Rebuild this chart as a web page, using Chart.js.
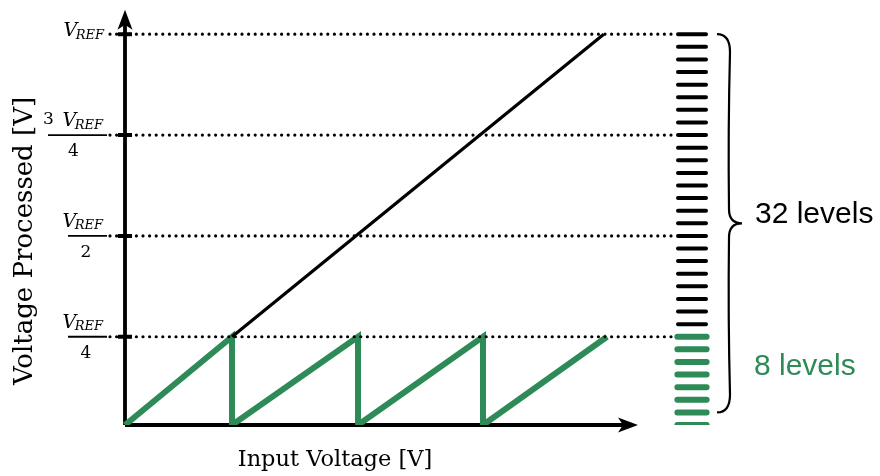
<!DOCTYPE html>
<html>
<head>
<meta charset="utf-8">
<script src="https://cdn.jsdelivr.net/npm/chart.js@4/dist/chart.umd.min.js"></script>
<style>
  html, body { margin: 0; padding: 0; background: #fff; }
  #wrap { width: 880px; height: 476px; }
</style>
</head>
<body>
<div id="wrap"><canvas id="canvas" width="880" height="476"></canvas></div>
<script>
// values (x: input voltage units, y: quantisation levels)
const sawX = [0, 8.56, 8.56, 18.64, 18.64, 28.64, 28.64, 38.56];
const sawY = [0, 7, 0, 7, 0, 7, 0, 7];
const rampX = [8.56, 38.3];
const rampY = [7, 31];
const gridLevels = [7, 15, 23, 31];
const tickCoef = ['', '', '3', ''];
const tickDen = ['4', '2', '4', ''];
const fineLevels = 32;
const coarseLevels = 8;
const braceLevels = [1, 16, 31];
const xAxisTitle = 'Input Voltage [V]';
const yAxisTitle = 'Voltage Processed [V]';
const fineText = '32 levels';
const coarseText = '8 levels';

const GREEN = '#2e8b57';
const xAxisEnd = 41.04, yAxisEnd = 32.94;
const gridFrom = -1.2, gridTo = 44.1;
const barFrom = 44.24, barTo = 46.48;

function pairs(xs, ys) {
    return xs.map(function (x, i) { return {x: x, y: ys[i]}; });
}

// short horizontal segments, separated by gaps
function segments(levels, x0, x1) {
    var out = [];
    levels.forEach(function (l) {
        out.push({x: x0, y: l}, {x: x1, y: l}, {x: x1, y: null});
    });
    return out;
}

var blackBars = [], greenBars = [];
for (var i = 0; i < fineLevels; i++) {
    (i < coarseLevels ? greenBars : blackBars).push(i);
}

var axesPlugin = {
    id: 'axes',
    beforeDatasetsDraw: function (chart) {
        var ctx = chart.ctx, x = chart.scales.x, y = chart.scales.y;
        var ox = x.getPixelForValue(0), oy = y.getPixelForValue(0);
        var tx = x.getPixelForValue(xAxisEnd), ty = y.getPixelForValue(yAxisEnd);
        ctx.save();
        ctx.strokeStyle = '#000';
        ctx.fillStyle = '#000';
        ctx.lineWidth = 3.8;
        ctx.beginPath();
        ctx.moveTo(ox, oy); ctx.lineTo(tx - 10, oy);
        ctx.moveTo(ox, oy); ctx.lineTo(ox, ty + 10);
        ctx.stroke();
        // arrow heads
        ctx.beginPath();
        ctx.moveTo(tx, oy); ctx.lineTo(tx - 20, oy - 7.5); ctx.lineTo(tx - 15, oy); ctx.lineTo(tx - 20, oy + 7.5);
        ctx.closePath(); ctx.fill();
        ctx.beginPath();
        ctx.moveTo(ox, ty); ctx.lineTo(ox - 7.5, ty + 20); ctx.lineTo(ox, ty + 15); ctx.lineTo(ox + 7.5, ty + 20);
        ctx.closePath(); ctx.fill();
        ctx.restore();
    },
    afterDraw: function (chart) {
        var ctx = chart.ctx, x = chart.scales.x, y = chart.scales.y;
        var ox = x.getPixelForValue(0);
        ctx.save();
        ctx.fillStyle = '#000';
        ctx.strokeStyle = '#000';

        // V_REF tick labels
        function vref(right, base) {
            ctx.font = 'italic 19px "DejaVu Serif"';
            var wV = ctx.measureText('V').width;
            ctx.font = 'italic 13px "DejaVu Serif"';
            var wR = ctx.measureText('REF').width;
            var left = right - wV - wR + 1.5;
            ctx.textAlign = 'left';
            ctx.textBaseline = 'alphabetic';
            ctx.font = 'italic 19px "DejaVu Serif"';
            ctx.fillText('V', left, base);
            ctx.font = 'italic 13px "DejaVu Serif"';
            ctx.fillText('REF', left + wV - 1.5, base + 2.5);
            return left;
        }
        gridLevels.forEach(function (lvl, k) {
            var gy = y.getPixelForValue(lvl);
            if (!tickDen[k]) {
                vref(ox - 21, gy + 2);
                return;
            }
            var barRight = ox - 18;
            var barLeft = tickCoef[k] ? ox - 77 : ox - 57;
            ctx.lineWidth = 1.8;
            ctx.beginPath();
            ctx.moveTo(barLeft, gy); ctx.lineTo(barRight, gy);
            ctx.stroke();
            vref(ox - 22, gy - 9);
            ctx.font = '17px "DejaVu Serif"';
            ctx.textBaseline = 'alphabetic';
            if (tickCoef[k]) {
                ctx.textAlign = 'left';
                ctx.fillText(tickCoef[k], ox - 82, gy - 11);
            }
            ctx.textAlign = 'center';
            var cx = tickCoef[k] ? ox - 51.5 : ox - 39;
            ctx.fillText(tickDen[k], cx, gy + 21);
        });

        // axis titles
        ctx.textAlign = 'center';
        ctx.textBaseline = 'alphabetic';
        ctx.font = '22.5px "DejaVu Serif"';
        ctx.fillText(xAxisTitle, 335, 466);
        ctx.save();
        ctx.font = '26px "DejaVu Serif"';
        ctx.translate(32, 241);
        ctx.rotate(-Math.PI / 2);
        ctx.fillText(yAxisTitle, 0, 0);
        ctx.restore();

        // brace
        var bx0 = x.getPixelForValue(47.36), bx1 = x.getPixelForValue(48.32), bx2 = x.getPixelForValue(49.36);
        var yb = y.getPixelForValue(braceLevels[0]), ym = y.getPixelForValue(braceLevels[1]), yt = y.getPixelForValue(braceLevels[2]);
        ctx.lineWidth = 2.2;
        ctx.beginPath();
        ctx.moveTo(bx0, yt);
        ctx.quadraticCurveTo(bx1 + 1, yt, bx1 + 1, yt + 18);
        ctx.quadraticCurveTo(bx1 - 1, (yt + ym) / 2, bx1, ym - 14);
        ctx.quadraticCurveTo(bx1, ym, bx2, ym);
        ctx.quadraticCurveTo(bx1, ym, bx1, ym + 14);
        ctx.quadraticCurveTo(bx1 - 1, (yb + ym) / 2, bx1 + 1, yb - 18);
        ctx.quadraticCurveTo(bx1 + 1, yb, bx0, yb);
        ctx.stroke();

        ctx.font = '30px "Liberation Sans"';
        ctx.textAlign = 'left';
        ctx.fillText(fineText, 755, ym);
        ctx.fillStyle = GREEN;
        ctx.fillText(coarseText, 754, y.getPixelForValue(4));
        ctx.restore();
    }
};

const chart = new Chart(document.getElementById('canvas').getContext('2d'), {
    type: 'line',
    data: {
        datasets: [
            {
                data: segments(gridLevels, gridFrom, gridTo),
                borderColor: '#000',
                borderWidth: 3.2,
                borderDash: [0, 6.6],
                borderCapStyle: 'round'
            },
            {
                data: segments(gridLevels, -0.56, 0.56),
                borderColor: '#000',
                borderWidth: 4
            },
            {
                data: pairs(rampX, rampY),
                borderColor: '#000',
                borderWidth: 3.2
            },
            {
                data: pairs(sawX, sawY),
                borderColor: GREEN,
                borderWidth: 6,
                borderJoinStyle: 'miter'
            },
            {
                data: segments(blackBars, barFrom, barTo),
                borderColor: '#000',
                borderWidth: 4,
                borderCapStyle: 'round'
            },
            {
                data: segments(greenBars, barFrom - 0.05, barTo + 0.05),
                borderColor: GREEN,
                borderWidth: 6,
                borderCapStyle: 'round'
            }
        ]
    },
    options: {
        responsive: false,
        animation: false,
        layout: {padding: {left: 100, right: 0, top: 9, bottom: 51}},
        elements: {
            point: {radius: 0, hoverRadius: 0},
            line: {tension: 0, fill: false}
        },
        scales: {
            x: {type: 'linear', min: -2, max: 60.4, display: false},
            y: {type: 'linear', min: 0, max: 33, display: false}
        },
        plugins: {
            legend: {display: false},
            tooltip: {enabled: false}
        }
    },
    plugins: [axesPlugin]
});
</script>
</body>
</html>
